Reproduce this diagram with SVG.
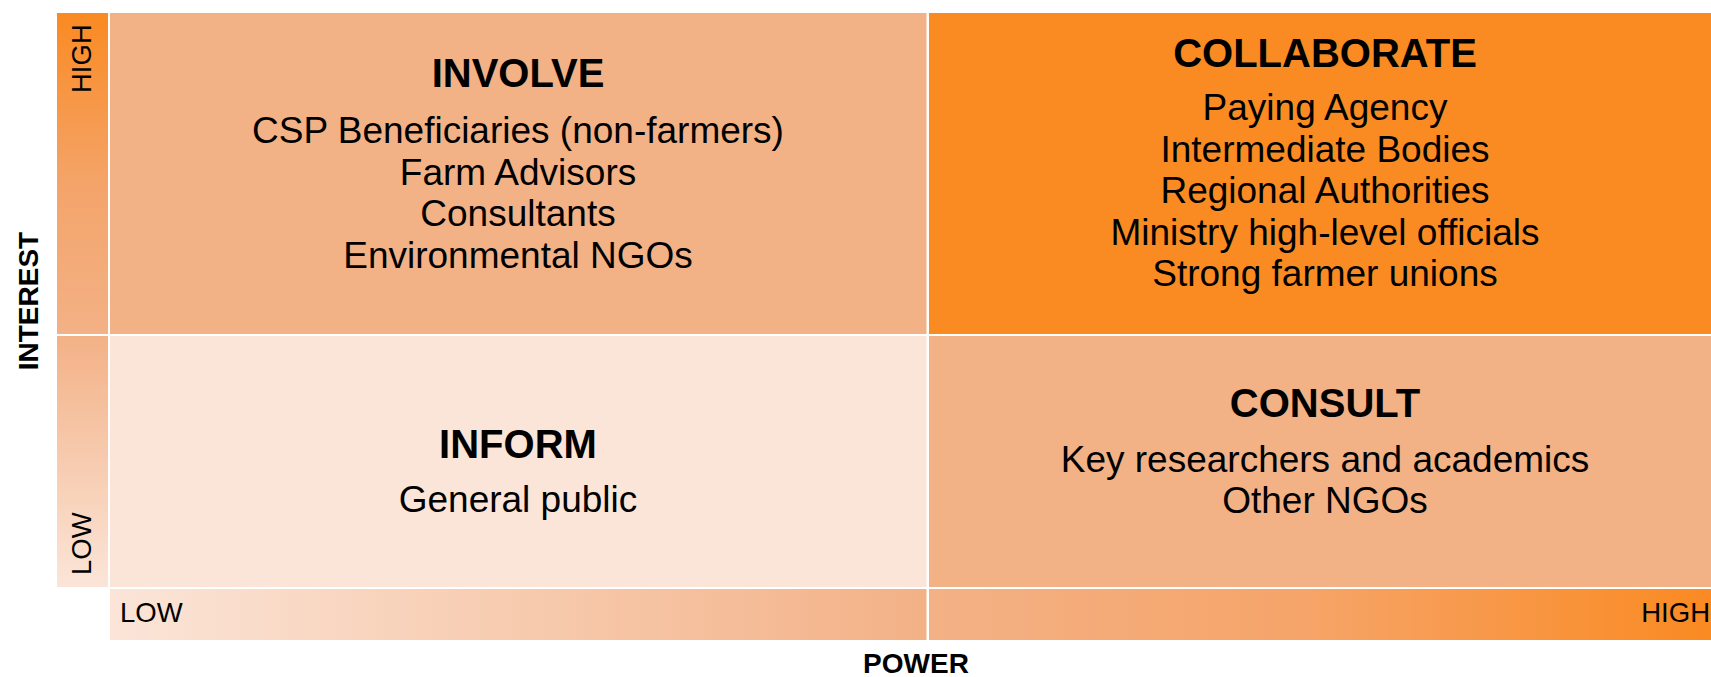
<svg xmlns="http://www.w3.org/2000/svg" width="1711" height="677" viewBox="0 0 1711 677">
  <defs>
    <linearGradient id="gradV" x1="0" y1="13" x2="0" y2="587" gradientUnits="userSpaceOnUse">
      <stop offset="0" stop-color="#FA8A22"/>
      <stop offset="0.3" stop-color="#F4A46A"/>
      <stop offset="0.56" stop-color="#F3B186"/>
      <stop offset="1" stop-color="#FBE5D8"/>
    </linearGradient>
    <linearGradient id="gradH" x1="110" y1="0" x2="1711" y2="0" gradientUnits="userSpaceOnUse">
      <stop offset="0" stop-color="#FBE5D8"/>
      <stop offset="0.51" stop-color="#F3B186"/>
      <stop offset="0.75" stop-color="#F6A468"/>
      <stop offset="1" stop-color="#FA8A22"/>
    </linearGradient>
    <style>
      text { font-family: "Liberation Sans", Arial, sans-serif; fill: #000000; }
      .head { font-size: 40px; font-weight: bold; text-anchor: middle; }
      .body { font-size: 37px; text-anchor: middle; }
      .axis { font-size: 28px; font-weight: bold; text-anchor: middle; }
      .tick { font-size: 27.5px; }
      .peach { fill: #F3B186; }
      .orange { fill: #FA8B22; }
      .pale { fill: #FAE5D8; }
    </style>
  </defs>

  <rect width="1711" height="677" fill="#FFFFFF"/>

  <g id="interest-axis">
    <rect x="57" y="13" width="51" height="321" fill="url(#gradV)"/>
    <rect x="57" y="336" width="51" height="251" fill="url(#gradV)"/>
    <text class="tick" transform="translate(90.5,93) rotate(-90)">HIGH</text>
    <text class="tick" transform="translate(90.5,575) rotate(-90)">LOW</text>
    <text class="axis" transform="translate(38,301) rotate(-90)">INTEREST</text>
  </g>

  <g id="power-axis">
    <rect x="110" y="589" width="816.5" height="51" fill="url(#gradH)"/>
    <rect x="929" y="589" width="782" height="51" fill="url(#gradH)"/>
    <text class="tick" x="120" y="621.5">LOW</text>
    <text class="tick" x="1710" y="621.5" text-anchor="end">HIGH</text>
    <text class="axis" x="916" y="673">POWER</text>
  </g>

  <g id="involve">
    <rect class="peach" x="110" y="13" width="816.5" height="321"/>
    <text class="head" x="518" y="87">INVOLVE</text>
    <text class="body" x="518" y="143">CSP Beneficiaries (non-farmers)</text>
    <text class="body" x="518" y="184.5">Farm Advisors</text>
    <text class="body" x="518" y="226">Consultants</text>
    <text class="body" x="518" y="267.5">Environmental NGOs</text>
  </g>

  <g id="collaborate">
    <rect class="orange" x="929" y="13" width="782" height="321"/>
    <text class="head" x="1325" y="67">COLLABORATE</text>
    <text class="body" x="1325" y="120">Paying Agency</text>
    <text class="body" x="1325" y="161.5">Intermediate Bodies</text>
    <text class="body" x="1325" y="203">Regional Authorities</text>
    <text class="body" x="1325" y="244.5">Ministry high-level officials</text>
    <text class="body" x="1325" y="286">Strong farmer unions</text>
  </g>

  <g id="inform">
    <rect class="pale" x="110" y="336" width="816.5" height="251"/>
    <text class="head" x="518" y="458">INFORM</text>
    <text class="body" x="518" y="512">General public</text>
  </g>

  <g id="consult">
    <rect class="peach" x="929" y="336" width="782" height="251"/>
    <text class="head" x="1325" y="417">CONSULT</text>
    <text class="body" x="1325" y="472">Key researchers and academics</text>
    <text class="body" x="1325" y="513">Other NGOs</text>
  </g>
</svg>
